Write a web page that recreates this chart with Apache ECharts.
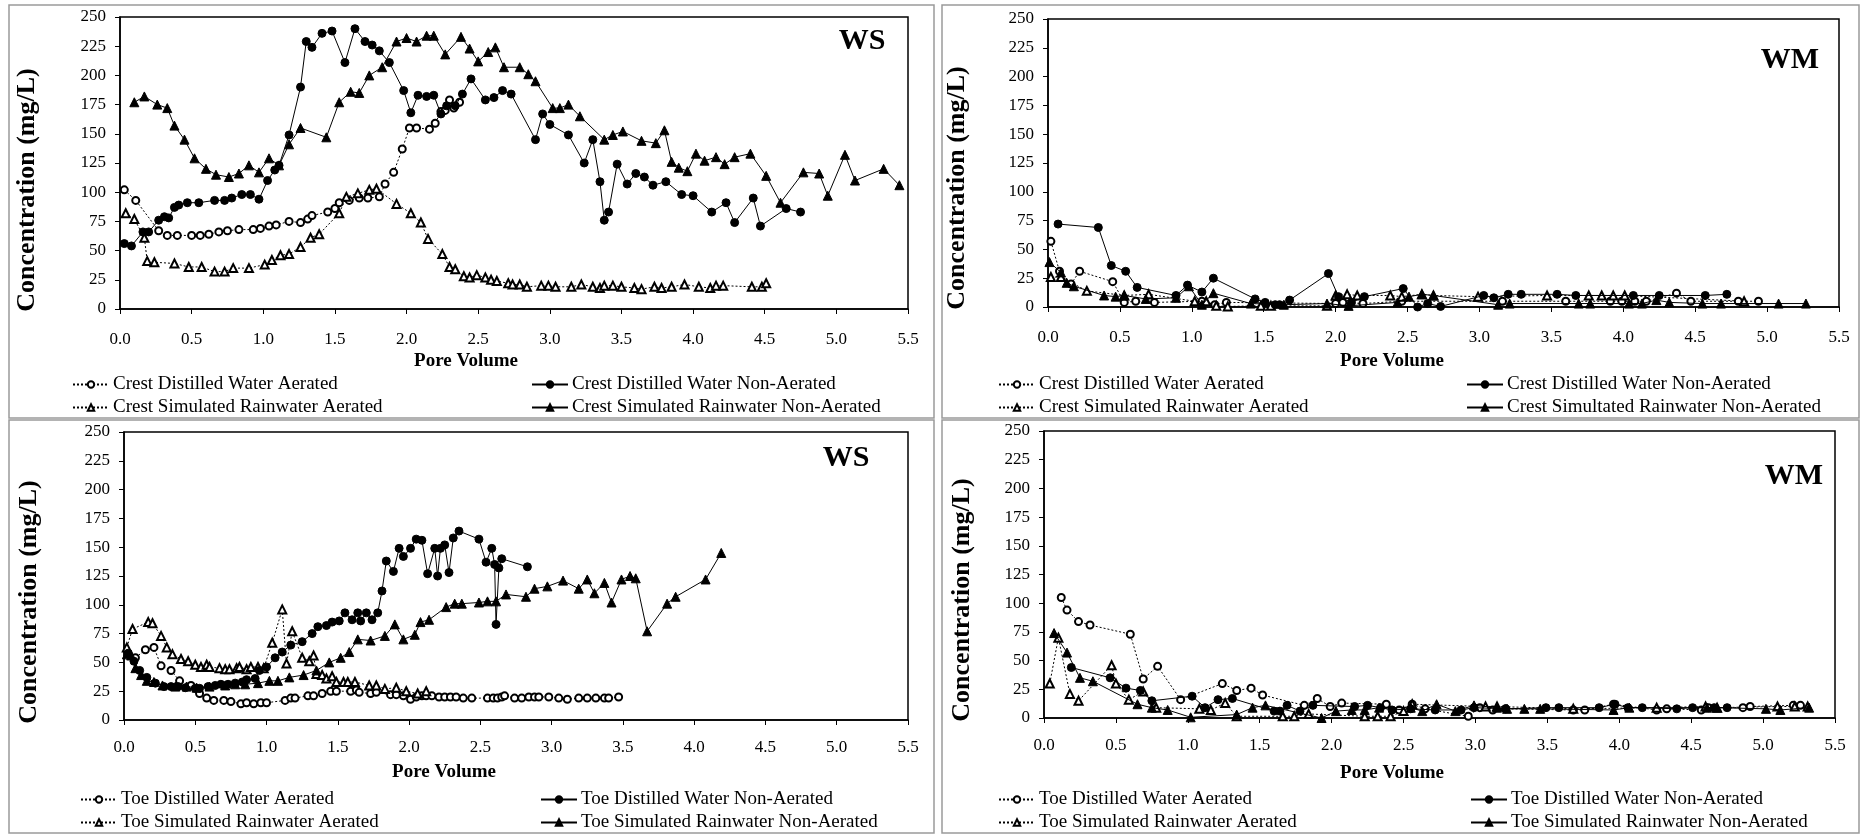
<!DOCTYPE html>
<html><head><meta charset="utf-8">
<script src="https://cdn.jsdelivr.net/npm/echarts@6/dist/echarts.min.js"></script>
<style>html,body{margin:0;padding:0;background:#fff}#c{width:1861px;height:835px}</style>
</head><body><div id="c"></div>
<script>
// ---------------- DATA ----------------
const xTickLabels = ['0.0','0.5','1.0','1.5','2.0','2.5','3.0','3.5','4.0','4.5','5.0','5.5'];
const yTickLabels = [0,25,50,75,100,125,150,175,200,225,250];

const seriesNamesCrestWS = ['Crest Distilled Water Aerated','Crest Distilled Water Non-Aerated','Crest Simulated Rainwater Aerated','Crest Simulated Rainwater Non-Aerated'];
const seriesNamesCrestWM = ['Crest Distilled Water Aerated','Crest Distilled Water Non-Aerated','Crest Simulated Rainwater Aerated','Crest Simultated Rainwater Non-Aerated'];
const seriesNamesToe = ['Toe Distilled Water Aerated','Toe Distilled Water Non-Aerated','Toe Simulated Rainwater Aerated','Toe Simulated Rainwater Non-Aerated'];

// Top-left: WS crest
const wsCrestDistAer = [[0.03,102],[0.11,93],[0.27,67],[0.33,63],[0.40,63],[0.50,63],[0.56,63],[0.62,64],[0.69,66],[0.75,67],[0.83,68],[0.93,68],[0.98,69],[1.04,71],[1.09,72],[1.18,75],[1.26,74],[1.31,77],[1.34,80],[1.45,83],[1.50,86],[1.53,91],[1.60,93],[1.67,95],[1.73,95],[1.81,96],[1.85,107],[1.91,117],[1.97,137],[2.02,155],[2.07,155],[2.16,154],[2.20,159],[2.24,169],[2.27,170],[2.30,179],[2.33,172],[2.37,177]];
const wsCrestDistNon = [[0.03,56],[0.08,54],[0.16,66],[0.20,66],[0.27,76],[0.31,79],[0.34,78],[0.38,87],[0.41,89],[0.47,91],[0.55,91],[0.66,93],[0.73,93],[0.78,95],[0.85,98],[0.91,98],[0.97,94],[1.03,110],[1.08,119],[1.11,123],[1.18,149],[1.26,190],[1.30,229],[1.34,224],[1.41,236],[1.48,238],[1.57,211],[1.64,240],[1.71,229],[1.76,226],[1.81,221],[1.88,211],[1.98,187],[2.03,168],[2.08,183],[2.14,182],[2.19,183],[2.24,167],[2.28,174],[2.34,174],[2.39,184],[2.45,197],[2.55,179],[2.61,181],[2.67,187],[2.73,184],[2.90,145],[2.95,167],[3.00,158],[3.13,149],[3.24,125],[3.30,145],[3.35,109],[3.38,76],[3.41,83],[3.47,124],[3.54,107],[3.60,116],[3.66,113],[3.72,106],[3.81,109],[3.92,98],[4.00,97],[4.13,83],[4.23,91],[4.29,74],[4.42,95],[4.47,71],[4.65,86],[4.75,83]];
const wsCrestRainAer = [[0.04,82],[0.10,77],[0.17,61],[0.19,41],[0.24,40],[0.38,39],[0.48,36],[0.57,36],[0.66,32],[0.73,32],[0.79,35],[0.90,35],[1.01,38],[1.06,42],[1.12,46],[1.18,47],[1.26,53],[1.33,61],[1.39,64],[1.53,82],[1.58,96],[1.66,99],[1.74,102],[1.79,103],[1.93,90],[2.03,82],[2.10,74],[2.15,60],[2.25,47],[2.30,36],[2.34,34],[2.40,28],[2.44,27],[2.49,29],[2.55,27],[2.59,25],[2.63,24],[2.71,22],[2.74,21],[2.79,21],[2.84,19],[2.94,20],[2.99,20],[3.04,19],[3.15,19],[3.22,21],[3.30,19],[3.35,18],[3.38,20],[3.44,20],[3.50,19],[3.59,18],[3.64,17],[3.73,19],[3.78,18],[3.85,19],[3.94,21],[4.04,19],[4.12,18],[4.16,20],[4.21,20],[4.41,19],[4.48,19],[4.51,22]];
const wsCrestRainNon = [[0.10,177],[0.17,182],[0.26,175],[0.33,172],[0.38,157],[0.45,145],[0.52,129],[0.60,120],[0.67,115],[0.76,113],[0.83,116],[0.90,123],[0.97,117],[1.04,129],[1.11,123],[1.18,141],[1.26,155],[1.44,147],[1.53,177],[1.61,186],[1.67,185],[1.74,200],[1.83,207],[1.93,229],[2.00,232],[2.07,229],[2.14,234],[2.19,234],[2.27,218],[2.38,233],[2.44,223],[2.50,212],[2.57,220],[2.62,224],[2.68,207],[2.79,207],[2.85,201],[2.90,195],[3.02,172],[3.07,172],[3.13,175],[3.21,165],[3.38,145],[3.44,149],[3.51,152],[3.64,144],[3.74,142],[3.80,153],[3.85,126],[3.90,121],[3.96,118],[4.02,133],[4.08,127],[4.16,130],[4.22,124],[4.29,130],[4.40,133],[4.51,114],[4.61,91],[4.77,117],[4.88,116],[4.94,97],[5.06,132],[5.13,110],[5.33,120],[5.44,106]];

// Top-right: WM crest
const wmCrestDistAer = [[0.02,57],[0.08,31],[0.16,20],[0.22,31],[0.45,22],[0.53,4],[0.61,5],[0.74,4],[1.07,5],[1.16,2],[1.24,4],[2.00,3],[2.05,4],[2.19,3],[2.46,5],[3.16,5],[3.60,5],[3.91,5],[3.99,5],[4.08,5],[4.16,5],[4.37,12],[4.47,5],[4.80,5],[4.94,5]];
const wmCrestDistNon = [[0.07,72],[0.35,69],[0.44,36],[0.54,31],[0.62,17],[0.89,10],[0.97,19],[1.07,13],[1.15,25],[1.44,7],[1.51,4],[1.58,2],[1.61,2],[1.68,6],[1.95,29],[2.02,9],[2.11,4],[2.20,9],[2.47,16],[2.57,0],[2.64,3],[2.73,0.5],[3.03,10],[3.10,8],[3.20,11],[3.29,11],[3.54,11],[3.67,10],[4.07,10],[4.25,10],[4.57,10],[4.72,11]];
const wmCrestRainAer = [[0.02,26],[0.09,26],[0.27,14],[0.53,10],[0.70,11],[1.02,5],[1.10,5],[1.17,1],[1.25,0.5],[1.48,1],[1.55,1],[1.94,1],[2.00,10],[2.08,11],[2.15,10],[2.38,10],[2.46,9],[2.60,11],[2.68,10],[2.99,9],[3.47,10],[3.76,10],[3.85,10],[3.93,10],[4.01,10],[4.84,5]];
const wmCrestRainNon = [[0.01,39],[0.09,30],[0.13,21],[0.18,18],[0.39,10],[0.47,9],[0.53,10],[0.68,7],[0.89,8],[0.98,18],[1.07,2],[1.15,12],[1.41,3],[1.64,2],[1.94,3],[2.09,1],[2.43,4],[2.51,9],[2.60,11],[2.68,10],[3.13,2],[3.21,3],[3.69,3],[3.77,3],[4.04,3],[4.13,3],[4.23,6],[4.32,4],[4.55,3],[4.68,3],[5.08,3],[5.27,3]];

// Bottom-left: WS toe
const wsToeDistAer = [[0.08,54],[0.15,61],[0.21,63],[0.26,47],[0.33,43],[0.39,34],[0.47,30],[0.53,23],[0.58,19],[0.63,17],[0.70,17],[0.75,16],[0.82,14],[0.86,15],[0.91,14],[0.96,15],[1.00,15],[1.13,17],[1.17,19],[1.20,19],[1.29,21],[1.33,21],[1.39,23],[1.45,25],[1.49,25],[1.59,25],[1.63,26],[1.65,24],[1.73,23],[1.77,24],[1.87,22],[1.91,22],[1.96,21],[2.01,18],[2.05,20],[2.09,21],[2.12,21],[2.16,21],[2.21,20],[2.25,20],[2.29,20],[2.33,20],[2.38,19],[2.44,19],[2.55,19],[2.59,19],[2.62,19],[2.65,20],[2.67,21],[2.74,19],[2.79,19],[2.84,20],[2.88,20],[2.91,20],[2.98,20],[3.05,19],[3.11,18],[3.19,19],[3.25,19],[3.31,19],[3.37,19],[3.40,19],[3.47,20]];
const wsToeDistNon = [[0.03,58],[0.07,51],[0.11,43],[0.16,37],[0.22,32],[0.28,29],[0.33,29],[0.38,29],[0.43,28],[0.50,27.5],[0.53,27.5],[0.59,29],[0.64,30],[0.68,31],[0.73,31],[0.78,32],[0.83,33],[0.86,35],[0.92,36],[0.95,43],[1.00,46],[1.06,54],[1.11,59],[1.17,65],[1.25,68],[1.32,75],[1.36,81],[1.42,82],[1.46,85],[1.51,86],[1.55,93],[1.60,87],[1.64,93],[1.66,86],[1.70,93],[1.74,87],[1.78,93],[1.81,112],[1.84,138],[1.89,129],[1.93,149],[1.96,142],[2.01,149],[2.05,157],[2.09,156],[2.13,127],[2.18,149],[2.20,125],[2.22,149],[2.25,152],[2.28,128],[2.31,158],[2.35,164],[2.49,157],[2.54,137],[2.58,149],[2.60,135],[2.61,83],[2.63,132],[2.65,140],[2.83,133]];
const wsToeRainAer = [[0.02,63],[0.06,79],[0.17,85],[0.20,84],[0.26,73],[0.30,63],[0.34,57],[0.40,53],[0.45,51],[0.50,48],[0.54,46],[0.58,48],[0.60,46],[0.67,45],[0.71,44],[0.74,44],[0.79,45],[0.81,46],[0.86,44],[0.89,46],[0.94,46],[0.98,45],[1.04,67],[1.11,96],[1.14,49],[1.18,77],[1.25,54],[1.30,51],[1.33,56],[1.35,40],[1.39,39],[1.42,36],[1.46,38],[1.49,33],[1.54,33],[1.57,33],[1.62,33],[1.72,30],[1.77,30],[1.83,27],[1.91,28],[1.98,25],[2.06,23],[2.12,25]];
const wsToeRainNon = [[0.02,57],[0.05,56],[0.08,45],[0.12,39],[0.16,34],[0.21,33],[0.27,30],[0.36,29],[0.44,29],[0.51,28],[0.60,29],[0.71,30],[0.78,31],[0.85,31],[0.94,32],[1.02,34],[1.08,34],[1.16,37],[1.26,39],[1.35,43],[1.44,50],[1.52,54],[1.58,59],[1.64,70],[1.73,69],[1.83,73],[1.90,83],[1.96,70],[2.04,74],[2.08,85],[2.14,87],[2.26,98],[2.32,101],[2.37,101],[2.49,102],[2.55,103],[2.61,103],[2.68,109],[2.82,107],[2.88,114],[2.97,116],[3.08,121],[3.19,114],[3.25,122],[3.30,110],[3.37,119],[3.42,102],[3.49,122],[3.55,125],[3.59,123],[3.67,77],[3.81,101],[3.87,107],[4.08,122],[4.19,145]];

// Bottom-right: WM toe
const wmToeDistAer = [[0.12,105],[0.16,94],[0.24,84],[0.32,81],[0.60,73],[0.69,34],[0.79,45],[0.95,16],[1.24,30],[1.34,24],[1.44,26],[1.52,20],[1.81,11],[1.90,17],[1.99,10],[2.07,13],[2.38,12],[2.47,7],[2.56,12],[2.65,8],[2.95,1.5],[3.03,9],[3.12,7],[3.21,8],[3.68,7],[3.76,7],[3.96,12],[4.26,7],[4.33,8],[4.57,7],[4.62,9],[4.86,9],[4.91,10],[5.21,11],[5.26,11]];
const wmToeDistNon = [[0.19,44],[0.46,35],[0.57,26],[0.67,24],[0.75,15],[1.03,19],[1.12,9],[1.21,16],[1.31,17],[1.60,6],[1.64,6],[1.69,11],[1.78,6],[1.87,11],[2.16,10],[2.25,11],[2.34,9],[2.42,7],[2.55,8],[2.72,7],[2.90,7],[2.99,9],[3.21,8],[3.49,9],[3.58,9],[3.86,9],[3.97,12],[4.06,9],[4.16,9],[4.40,8],[4.51,9],[4.66,9],[4.75,9]];
const wmToeRainAer = [[0.04,30],[0.10,70],[0.18,21],[0.24,15],[0.47,46],[0.50,30],[0.59,16],[0.69,23],[0.78,9],[1.08,8],[1.16,7],[1.26,13],[1.34,1.5],[1.66,1.5],[1.74,1.5],[1.84,3.5],[2.23,1.5],[2.32,1.5],[2.41,1.5],[2.50,6],[2.56,12],[3.07,10],[3.15,10],[3.68,8],[4.26,9],[4.60,10],[4.68,9],[5.10,10],[5.22,10],[5.31,10]];
const wmToeRainNon = [[0.07,74],[0.16,57],[0.25,35],[0.34,32],[0.65,12],[0.75,9],[0.86,7],[1.02,0.6],[1.34,3],[1.45,9],[1.54,11],[1.93,0],[2.03,6],[2.14,7],[2.23,7],[2.33,9],[2.55,9],[2.63,6],[2.73,12],[2.86,6],[2.99,11],[3.15,9],[3.22,8],[3.34,8],[3.45,8],[3.96,7],[4.07,9],[4.61,9],[4.68,9],[5.02,8],[5.12,7],[5.32,9]];

const panelLabels = ['WS','WM','WS','WM'];

// ---------------- CHART ----------------
const FONT = "'Liberation Serif','Times New Roman',serif";
const chart = echarts.init(document.getElementById('c'), null, {renderer:'canvas'});

const grids = [
  {left:120, top:17, width:788, height:292},
  {left:1048, top:19, width:791, height:288},
  {left:124, top:432, width:784, height:288},
  {left:1044, top:431, width:791, height:287}
];
const xLabelMargin = [22,22,19,19];

const styles = [
  {symbol:'emptyCircle', symbolSize:7, line:{type:[2,2], width:1}},
  {symbol:'circle', symbolSize:8, line:{type:'solid', width:1}},
  {symbol:'emptyTriangle', symbolSize:8, line:{type:[2,2], width:1}},
  {symbol:'triangle', symbolSize:9, line:{type:'solid', width:1}}
];

const panels = [
  {names:seriesNamesCrestWS, data:[wsCrestDistAer, wsCrestDistNon, wsCrestRainAer, wsCrestRainNon]},
  {names:seriesNamesCrestWM, data:[wmCrestDistAer, wmCrestDistNon, wmCrestRainAer, wmCrestRainNon]},
  {names:seriesNamesToe, data:[wsToeDistAer, wsToeDistNon, wsToeRainAer, wsToeRainNon]},
  {names:seriesNamesToe, data:[wmToeDistAer, wmToeDistNon, wmToeRainAer, wmToeRainNon]}
];

const xMin = parseFloat(xTickLabels[0]), xMax = parseFloat(xTickLabels[xTickLabels.length-1]);
const xStep = parseFloat(xTickLabels[1]) - xMin;
const yMin = yTickLabels[0], yMax = yTickLabels[yTickLabels.length-1], yStep = yTickLabels[1]-yTickLabels[0];

const xAxes = grids.map((g,i)=>({
  gridIndex:i, type:'value', min:xMin, max:xMax, interval:xStep,
  axisLine:{show:true, onZero:false, lineStyle:{color:'#000', width:1.5}},
  axisTick:{show:true, inside:false, length:5, lineStyle:{color:'#000', width:1}},
  axisLabel:{color:'#000', fontFamily:FONT, fontSize:17, margin:xLabelMargin[i], formatter:v=>v.toFixed(1)},
  splitLine:{show:false}
}));
const yAxes = grids.map((g,i)=>({
  gridIndex:i, type:'value', min:yMin, max:yMax, interval:yStep,
  axisLine:{show:true, lineStyle:{color:'#000', width:1.5}},
  axisTick:{show:true, inside:false, length:5, lineStyle:{color:'#000', width:1}},
  axisLabel:{color:'#000', fontFamily:FONT, fontSize:17, margin:14},
  splitLine:{show:false}
}));

const series = [];
panels.forEach((p,pi)=>{
  [0,2,1,3].forEach(k=>{
    const st = styles[k];
    series.push({
      type:'line', name:p.names[k], xAxisIndex:pi, yAxisIndex:pi,
      data:p.data[k], symbol:st.symbol, symbolSize:st.symbolSize, showAllSymbol:true,
      lineStyle:{color:'#000', width:st.line.width, type:st.line.type},
      itemStyle:{color:'#000', borderColor:'#000', borderWidth:1},
      emphasis:{disabled:true}, animation:false, z: k%2===1 ? 3 : 2
    });
  });
});

const legendPos = [
  {cols:[72,531], rows:[385,408]},
  {cols:[998,1466], rows:[385,408]},
  {cols:[80,540], rows:[800,823]},
  {cols:[998,1470], rows:[800,823]}
];
const legends = [];
panels.forEach((p,pi)=>{
  const lp = legendPos[pi];
  p.names.forEach((n,k)=>{
    legends.push({
      data:[n], left:lp.cols[k%2], top:lp.rows[Math.floor(k/2)]-10, padding:0,
      itemWidth:36, itemHeight:8, itemGap:4, selectedMode:false,
      textStyle:{color:'#000', fontFamily:FONT, fontSize:19, padding:[0,0,0,-1]}
    });
  });
});

const boxes = [[9,5,925,413],[942,5,917,413],[9,420,925,413],[942,420,917,413]];
const graphic = [];
boxes.forEach(b=>graphic.push({type:'rect', shape:{x:b[0],y:b[1],width:b[2],height:b[3]}, style:{fill:'none', stroke:'#9a9a9a', lineWidth:1.5}, silent:true, z:-1}));
const labelPos = [[862,41],[1790,60],[846,458],[1794,476]];
labelPos.forEach((lp,i)=>graphic.push({type:'text', x:lp[0], y:lp[1], style:{text:panelLabels[i], font:"bold 30px "+FONT, fill:'#000', textAlign:'center', textVerticalAlign:'middle'}}));
const yTitlePos = [[27,190],[957,188],[29,602],[962,600]];
yTitlePos.forEach(p=>graphic.push({type:'text', x:p[0], y:p[1], rotation:Math.PI/2, style:{text:'Concentration (mg/L)', font:"bold 26px "+FONT, fill:'#000', textAlign:'center', textVerticalAlign:'middle'}}));
const xTitlePos = [[466,361],[1392,361],[444,772],[1392,773]];
xTitlePos.forEach(p=>graphic.push({type:'text', x:p[0], y:p[1], style:{text:'Pore Volume', font:"bold 19px "+FONT, fill:'#000', textAlign:'center', textVerticalAlign:'middle'}}));

chart.setOption({
  backgroundColor:'#fff', animation:false,
  grid:grids.map(g=>Object.assign({show:true, borderColor:'#000', borderWidth:1.5, backgroundColor:'#fff'}, g)),
  xAxis:xAxes, yAxis:yAxes, series, legend:legends, graphic
});
</script></body></html>
